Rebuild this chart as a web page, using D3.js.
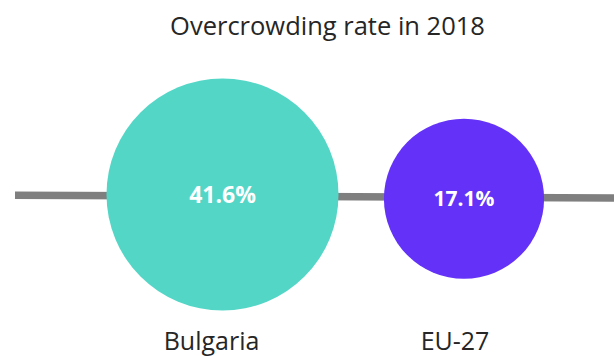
<!DOCTYPE html>
<html>
<head>
<meta charset="utf-8">
<script src="https://cdn.jsdelivr.net/npm/d3@7"></script>
<style>
  html, body { margin: 0; padding: 0; background: #ffffff; }
  svg { display: block; }
</style>
</head>
<body>
<svg id="chart" width="614" height="356"></svg>
<script>
// ---- data ----
const title = "Overcrowding rate in 2018";
const categories = ["Bulgaria", "EU-27"];
const values = [41.6, 17.1];
const valueLabels = ["41.6%", "17.1%"];
const colors = ["#54D6C7", "#6331F7"];

// ---- layout ----
const W = 614, H = 356;
const svg = d3.select("#chart");
const FONT = "'Open Sans', 'Noto Sans', sans-serif";

const x = d3.scalePoint().domain(categories).range([222.5, 464]);
const r = d3.scaleLinear().domain([0, d3.max(values)]).range([55, 116]);
const cy = d3.scaleOrdinal().domain(categories).range([194.5, 198.7]);

// connecting line
svg.append("line")
  .attr("x1", 15).attr("y1", 195.2)
  .attr("x2", W).attr("y2", 198)
  .attr("stroke", "#7f7f7f")
  .attr("stroke-width", 7.5);

// title
svg.append("text")
  .attr("x", 327.5).attr("y", 35)
  .attr("text-anchor", "middle")
  .attr("font-family", FONT)
  .attr("font-size", 25.5)
  .attr("fill", "#262626")
  .text(title);

const data = categories.map((c, i) => ({ c, v: values[i], label: valueLabels[i], color: colors[i] }));

const g = svg.selectAll("g.bubble").data(data).join("g").attr("class", "bubble");

g.append("circle")
  .attr("cx", d => x(d.c))
  .attr("cy", d => cy(d.c))
  .attr("r", d => r(d.v))
  .attr("fill", d => d.color);

g.append("text")
  .attr("x", d => x(d.c))
  .attr("y", d => cy(d.c))
  .attr("dy", "0.35em")
  .attr("text-anchor", "middle")
  .attr("font-family", FONT)
  .attr("font-weight", "bold")
  .attr("font-size", (d, i) => i === 0 ? 23 : 21)
  .attr("fill", "#ffffff")
  .text(d => d.label);

g.append("text")
  .attr("x", (d, i) => x(d.c) + (i === 0 ? -11 : -9))
  .attr("y", 350)
  .attr("text-anchor", "middle")
  .attr("font-family", FONT)
  .attr("font-size", 25)
  .attr("fill", "#262626")
  .text(d => d.c);
</script>
</body>
</html>
